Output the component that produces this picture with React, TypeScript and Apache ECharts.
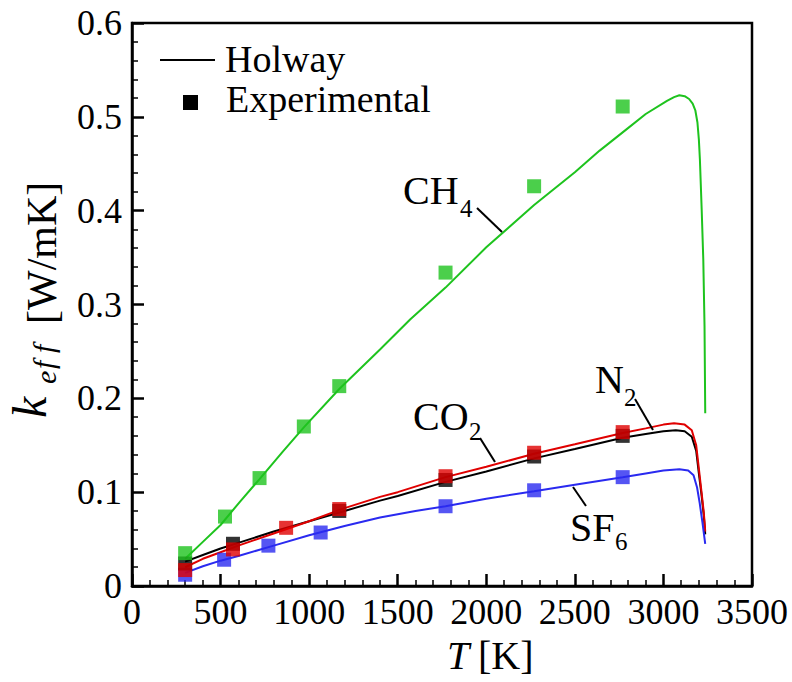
import React, { useEffect, useRef } from "react";
import * as echarts from "echarts";

// ---- Holway model curves (T [K], k_eff [W/mK]) ----
const ch4LineT = [300, 400, 500, 610, 720, 850, 970, 1170, 1400, 1570, 1770, 2000, 2270, 2500, 2640, 2800, 2900, 3020, 3060, 3090, 3120, 3145, 3165, 3180, 3192, 3200, 3206, 3216, 3225, 3232, 3236];
const ch4LineK = [0.029, 0.047, 0.065, 0.090, 0.114, 0.143, 0.169, 0.210, 0.252, 0.284, 0.318, 0.361, 0.406, 0.441, 0.464, 0.488, 0.503, 0.517, 0.521, 0.523, 0.522, 0.519, 0.514, 0.507, 0.494, 0.476, 0.454, 0.401, 0.348, 0.277, 0.184];

const co2LineT = [300, 400, 500, 600, 800, 1000, 1200, 1400, 1500, 1770, 2000, 2270, 2500, 2770, 2900, 3000, 3060, 3120, 3160, 3185, 3200, 3215, 3228, 3236];
const co2LineK = [0.020, 0.029, 0.036, 0.043, 0.056, 0.069, 0.083, 0.095, 0.100, 0.116, 0.127, 0.141, 0.151, 0.163, 0.168, 0.172, 0.1735, 0.172, 0.166, 0.150, 0.125, 0.100, 0.078, 0.058];

const n2LineT = [300, 400, 500, 600, 800, 1000, 1200, 1400, 1500, 1770, 2000, 2270, 2500, 2770, 2900, 3000, 3070, 3120, 3160, 3185, 3200, 3215, 3228, 3236];
const n2LineK = [0.026, 0.033, 0.040, 0.046, 0.058, 0.069, 0.080, 0.091, 0.096, 0.111, 0.122, 0.136, 0.146, 0.158, 0.162, 0.165, 0.166, 0.165, 0.159, 0.144, 0.120, 0.097, 0.075, 0.055];

const sf6LineT = [300, 400, 500, 600, 800, 1000, 1200, 1400, 1600, 1770, 2000, 2270, 2500, 2770, 2900, 3000, 3090, 3140, 3170, 3190, 3205, 3220, 3236];
const sf6LineK = [0.014, 0.021, 0.027, 0.032, 0.043, 0.054, 0.064, 0.073, 0.080, 0.085, 0.093, 0.101, 0.108, 0.116, 0.120, 0.123, 0.1245, 0.123, 0.118, 0.105, 0.088, 0.068, 0.045];

// ---- Experimental points ----
const ch4ExpT = [300, 525, 720, 970, 1170, 1770, 2270, 2770];
const ch4ExpK = [0.035, 0.074, 0.115, 0.170, 0.213, 0.334, 0.426, 0.511];
const n2ExpT = [300, 570, 1170, 1770, 2270, 2770];
const n2ExpK = [0.024, 0.045, 0.080, 0.113, 0.138, 0.160];
const co2ExpT = [300, 570, 870, 1170, 1770, 2270, 2770];
const co2ExpK = [0.017, 0.039, 0.062, 0.082, 0.117, 0.142, 0.164];
const sf6ExpT = [300, 520, 770, 1065, 1770, 2270, 2770];
const sf6ExpK = [0.012, 0.028, 0.043, 0.057, 0.085, 0.102, 0.116];

const legendLabels = ["Holway", "Experimental"];
const gasLabels = ["CH", "CO", "N", "SF"];
const gasSubs = ["4", "2", "2", "6"];

const GREEN = "#1ec31e";
const RED = "#e00000";
const BLUE = "#2a2af0";
const BLACK = "#000000";
const FONT = "'Liberation Serif', 'Times New Roman', Times, serif";

const zip = (t: number[], k: number[]) => t.map((v, i) => [v, k[i]]);

export default function App() {
  const ref = useRef<HTMLDivElement>(null);
  useEffect(() => {
    if (!ref.current) return;
    const chart = echarts.init(ref.current, undefined, { renderer: "svg" });

    const lineSeries = (name: string, t: number[], k: number[], color: string) => ({
      name,
      type: "line",
      data: zip(t, k),
      showSymbol: false,
      symbol: "none",
      smooth: false,
      lineStyle: { color, width: 2 },
      z: 2,
    });
    const expSeries = (name: string, t: number[], k: number[], color: string) => ({
      name,
      type: "scatter",
      data: zip(t, k),
      symbol: "rect",
      symbolSize: 14,
      itemStyle: { color },
      z: 3,
    });

    const txt = (text: string, x: number, y: number, size: number, opts: any = {}) => ({
      type: "text",
      x,
      y,
      rotation: opts.rotation || 0,
      z: 100,
      style: {
        text,
        fontSize: size,
        fontFamily: FONT,
        fontStyle: opts.italic ? "italic" : "normal",
        fill: "#000",
        align: opts.align || "left",
        verticalAlign: "middle",
      },
    });
    const seg = (x1: number, y1: number, x2: number, y2: number) => ({
      type: "line",
      z: 100,
      shape: { x1, y1, x2, y2 },
      style: { stroke: "#000", lineWidth: 2 },
    });

    const option: any = {
      animation: false,
      grid: {
        left: 132,
        top: 23,
        right: 40,
        bottom: 96,
        show: true,
        borderColor: "#000",
        borderWidth: 2.5,
        backgroundColor: "transparent",
      },
      xAxis: {
        type: "value",
        min: 0,
        max: 3500,
        interval: 500,
        axisLine: { show: true, lineStyle: { color: "#000", width: 2.5 } },
        axisTick: { show: true, inside: true, length: 12, lineStyle: { color: "#000", width: 2.5 } },
        minorTick: { show: true, splitNumber: 5, length: 6, lineStyle: { color: "#000", width: 1.5 } },
        splitLine: { show: false },
        axisLabel: {
          color: "#000",
          fontFamily: FONT,
          fontSize: 36,
          margin: 8,
          formatter: (v: number) => String(v),
        },
      },
      yAxis: {
        type: "value",
        min: 0,
        max: 0.6,
        interval: 0.1,
        axisLine: { show: true, lineStyle: { color: "#000", width: 2.5 } },
        axisTick: { show: true, inside: true, length: 12, lineStyle: { color: "#000", width: 2.5 } },
        minorTick: { show: true, splitNumber: 5, length: 6, lineStyle: { color: "#000", width: 1.5 } },
        splitLine: { show: false },
        axisLabel: {
          color: "#000",
          fontFamily: FONT,
          fontSize: 36,
          margin: 10,
          formatter: (v: number) => (v === 0 ? "0" : v.toFixed(1)),
        },
      },
      series: [
        lineSeries("N2 Holway", n2LineT, n2LineK, BLACK),
        lineSeries("CO2 Holway", co2LineT, co2LineK, RED),
        lineSeries("SF6 Holway", sf6LineT, sf6LineK, BLUE),
        lineSeries("CH4 Holway", ch4LineT, ch4LineK, GREEN),
        expSeries("SF6 Exp", sf6ExpT, sf6ExpK, BLUE),
        expSeries("N2 Exp", n2ExpT, n2ExpK, BLACK),
        expSeries("CO2 Exp", co2ExpT, co2ExpK, RED),
        expSeries("CH4 Exp", ch4ExpT, ch4ExpK, GREEN),
      ],
      graphic: [
        // legend
        seg(160, 60, 215, 60),
        { type: "rect", z: 100, shape: { x: 183, y: 95, width: 15, height: 15 }, style: { fill: "#000" } },
        txt(legendLabels[0], 225, 59, 38),
        txt(legendLabels[1], 226, 99, 38),
        // gas labels
        txt(gasLabels[0], 403, 190, 40),
        txt(gasSubs[0], 460, 208, 25),
        seg(477, 208, 502, 232),
        txt(gasLabels[1], 413, 416, 40),
        txt(gasSubs[1], 469, 431, 25),
        seg(480, 438, 495, 462),
        txt(gasLabels[2], 595, 379, 40),
        txt(gasSubs[2], 624, 397, 25),
        seg(635, 399, 653, 430),
        txt(gasLabels[3], 570, 527, 40),
        txt(gasSubs[3], 615, 541, 25),
        seg(573, 487, 586, 506),
        // x axis title
        txt("T", 447, 655, 40, { italic: true }),
        txt("[K]", 478, 655, 40),
        // y axis title (rotated)
        txt("k", 29, 418, 48, { italic: true, rotation: Math.PI / 2 }),
        txt("e", 45, 384, 30, { italic: true, rotation: Math.PI / 2 }),
        txt("f", 43, 369, 30, { italic: true, rotation: Math.PI / 2 }),
        txt("f", 43, 353, 30, { italic: true, rotation: Math.PI / 2 }),
        txt("[W/mK]", 42, 324, 42, { rotation: Math.PI / 2 }),
      ],
    };
    chart.setOption(option);
    return () => chart.dispose();
  }, []);

  return (
    <div
      ref={ref}
      style={{ position: "fixed", left: 0, top: 0, width: 792, height: 682, background: "#fff" }}
    />
  );
}
